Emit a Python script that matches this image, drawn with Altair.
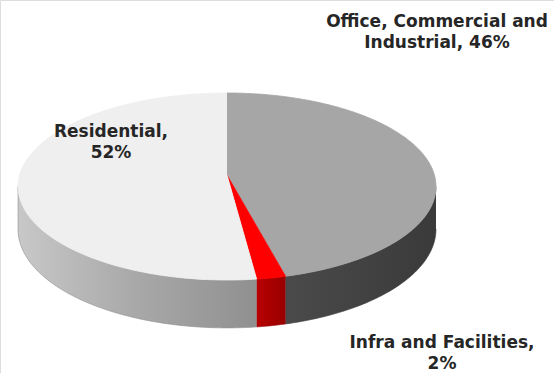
import numpy as np
import pandas as pd
import altair as alt

# ---- data ----
categories = ["Office, Commercial and Industrial", "Infra and Facilities", "Residential"]
shares = [46, 2, 52]
labels = ["Office, Commercial and\nIndustrial, 46%", "Infra and Facilities,\n2%", "Residential,\n52%"]

# ---- styles / layout ----
top_colors = ["#a6a6a6", "#ff0000", "#efefef"]
side_stops = [["#4a4a4a", "#3a3a3a"], ["#b80000", "#980000"], ["#c8c8c8", "#a8a8a8", "#909090"]]
W, H = 554, 373
CX, CY = 227, 175          # pie centre (apex) in pixels from top-left
RX, RY, DEPTH = 207.4, 92.1, 42
PERSP = 0.123              # perspective strength (near edge appears larger)
label_pos = {  # first-line position, offset from pie centre in pixels (y up)
    categories[0]: (210, 153),
    categories[1]: (215, -168),
    categories[2]: (-116, 43),
}


def rim(t, drop=0.0):
    u, v = np.sin(t), np.cos(t)
    s = 1.0 / (1.0 + PERSP * v)
    return RX * u * s, (RY * v - drop) * s


fr = np.array(shares, dtype=float) / sum(shares)
ends = np.cumsum(fr) * 2 * np.pi
starts = ends - fr * 2 * np.pi
vis_lo = np.arccos(-PERSP)
vis_hi = 2 * np.pi - vis_lo

top_rows, side_rows = [], []
for i, cat in enumerate(categories):
    a, b = starts[i], ends[i]
    n = max(int(np.degrees(b - a)), 2) + 1
    k = 0
    top_rows.append(dict(cat=cat, x=0.0, y=0.0, o=k)); k += 1
    for t in np.linspace(a, b, n):
        x, y = rim(t)
        top_rows.append(dict(cat=cat, x=x, y=y, o=k)); k += 1
    lo, hi = max(a, vis_lo), min(b, vis_hi)
    if hi > lo:
        m = max(int(np.degrees(hi - lo)), 2) + 1
        ts = np.linspace(lo, hi, m)
        k = 0
        for t in ts:
            x, y = rim(t)
            side_rows.append(dict(cat=cat, x=x, y=y, o=k)); k += 1
        for t in ts[::-1]:
            x, y = rim(t, DEPTH)
            side_rows.append(dict(cat=cat, x=x, y=y, o=k)); k += 1

top_df = pd.DataFrame(top_rows)
side_df = pd.DataFrame(side_rows)
lab_df = pd.DataFrame({
    "cat": categories,
    "label": labels,
    "x": [label_pos[c][0] for c in categories],
    "y": [label_pos[c][1] for c in categories],
})

xs = alt.Scale(domain=[-CX, W - CX], nice=False, zero=False)
ys = alt.Scale(domain=[-(H - CY), CY], nice=False, zero=False)
X = alt.X("x:Q", scale=xs, axis=None)
Y = alt.Y("y:Q", scale=ys, axis=None)

layers = []
# side walls (front half only), with horizontal shading
for i, cat in enumerate(categories):
    d = side_df[side_df["cat"] == cat]
    if d.empty:
        continue
    st = side_stops[i]
    stops = [alt.GradientStop(offset=j / (len(st) - 1), color=c) for j, c in enumerate(st)]
    grad = alt.LinearGradient(gradient="linear", stops=stops, x1=0, x2=1, y1=0, y2=0)
    layers.append(
        alt.Chart(d).mark_line(filled=True, fill=grad, stroke=st[-1], strokeWidth=0.6).encode(
            x=X, y=Y, order="o:Q"
        )
    )
# top faces
for i, cat in enumerate(categories):
    d = top_df[top_df["cat"] == cat]
    layers.append(
        alt.Chart(d).mark_line(filled=True, fill=top_colors[i], stroke=top_colors[i], strokeWidth=0.8).encode(
            x=X, y=Y, order="o:Q"
        )
    )

text = alt.Chart(lab_df).mark_text(
    font="DejaVu Sans", fontWeight="bold", fontSize=17, color="#262626",
    lineBreak="\n", lineHeight=21, align="center", baseline="middle",
).encode(x=X, y=Y, text="label:N")
layers.append(text)

chart = alt.layer(*layers).properties(
    width=W, height=H, autosize=alt.AutoSizeParams(type="none"), padding=0
).configure_view(stroke=None).configure(background="white")

chart.save("out.html", embed_options={"renderer": "svg", "actions": False})
